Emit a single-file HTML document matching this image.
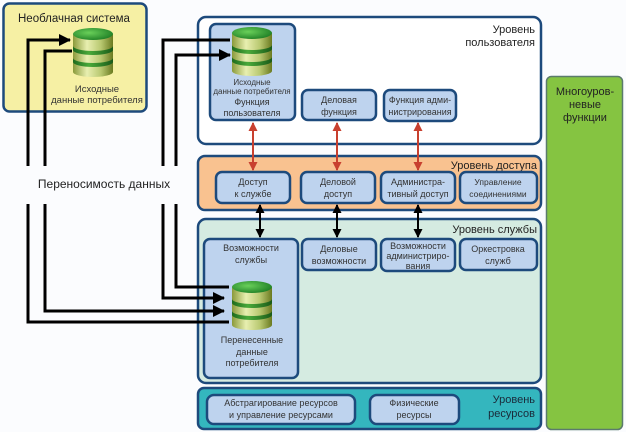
<!DOCTYPE html>
<html><head><meta charset="utf-8"><style>
body{margin:0;width:626px;height:432px;background:#fbfcfe;overflow:hidden;font-family:"Liberation Sans",sans-serif;}
svg{position:absolute;left:0;top:0}
</style></head><body>
<svg width="626" height="432" viewBox="0 0 626 432" xmlns="http://www.w3.org/2000/svg" font-family="Liberation Sans, sans-serif">
<defs>
<linearGradient id="cyl" x1="0" x2="1" y1="0" y2="0">
<stop offset="0" stop-color="#8a9a3a"/><stop offset="0.35" stop-color="#e8efb0"/><stop offset="0.7" stop-color="#b8c870"/><stop offset="1" stop-color="#6a7a20"/>
</linearGradient>
<linearGradient id="band" x1="0" x2="1"><stop offset="0" stop-color="#1e6a1e"/><stop offset="0.4" stop-color="#4aaa3a"/><stop offset="1" stop-color="#1a5a18"/></linearGradient>
<radialGradient id="top" cx="0.4" cy="0.4" r="0.7"><stop offset="0" stop-color="#6ad05a"/><stop offset="1" stop-color="#1a7a22"/></radialGradient>
<marker id="abig" markerWidth="12" markerHeight="12" refX="11" refY="6" orient="auto" markerUnits="userSpaceOnUse"><path d="M0,0L12,6L0,12z" fill="#000"/></marker>
<marker id="ar" markerWidth="9" markerHeight="9" refX="8" refY="4.5" orient="auto-start-reverse" markerUnits="userSpaceOnUse"><path d="M0,0L9,4.5L0,9z" fill="#c8402f"/></marker>
<marker id="ak" markerWidth="9" markerHeight="9" refX="8" refY="4.5" orient="auto-start-reverse" markerUnits="userSpaceOnUse"><path d="M0,0L9,4.5L0,9z" fill="#000"/></marker>
<g id="db">
<rect x="0" y="6" width="40" height="38" fill="url(#cyl)"/>
<ellipse cx="20" cy="44" rx="20" ry="5" fill="url(#cyl)"/>
<path d="M0,18 a20,5 0 0 0 40,0 v4 a20,5 0 0 1 -40,0z" fill="url(#band)"/>
<path d="M0,30 a20,5 0 0 0 40,0 v4 a20,5 0 0 1 -40,0z" fill="url(#band)"/>
<ellipse cx="20" cy="6" rx="20" ry="6" fill="url(#top)"/>
</g>
</defs>

<rect x="3.5" y="3.5" width="143" height="108" rx="6" fill="#f6f0a4" stroke="#1d4a7c" stroke-width="2.5"/>
<text x="18" y="22" font-size="11.5" fill="#222">Необлачная система</text>
<use href="#db" x="73" y="28"/>
<text x="97" y="92" font-size="9.5" text-anchor="middle" fill="#333">Исходные</text>
<text x="97" y="103" font-size="9.5" text-anchor="middle" fill="#333">данные потребителя</text>

<rect x="546.5" y="76.5" width="76" height="353" rx="5" fill="#85c441" stroke="#5b7a6c" stroke-width="1.5"/>
<text x="585" y="95" font-size="11" text-anchor="middle" fill="#222">Многоуров-</text>
<text x="585" y="108" font-size="11" text-anchor="middle" fill="#222">невые</text>
<text x="585" y="121" font-size="11" text-anchor="middle" fill="#222">функции</text>

<rect x="198" y="17" width="343" height="127" rx="8" fill="#fff" stroke="#1d4a7c" stroke-width="2.5"/>
<text x="535" y="33" font-size="11" text-anchor="end" fill="#222">Уровень</text>
<text x="535" y="46" font-size="11" text-anchor="end" fill="#222">пользователя</text>
<rect x="210" y="24" width="85" height="96" rx="6" fill="#bed3ee" stroke="#1d4a7c" stroke-width="2.5"/>
<use href="#db" x="232" y="27"/>
<text x="252" y="85" font-size="8" text-anchor="middle" fill="#333">Исходные</text>
<text x="252" y="94" font-size="8" text-anchor="middle" fill="#333">данные потребителя</text>
<text x="252" y="105" font-size="9" text-anchor="middle" fill="#333">Функция</text>
<text x="252" y="116" font-size="9" text-anchor="middle" fill="#333">пользователя</text>
<rect x="302" y="90" width="74" height="30" rx="6" fill="#bed3ee" stroke="#1d4a7c" stroke-width="2.5"/>
<text x="339" y="103" font-size="9" text-anchor="middle" fill="#333">Деловая</text>
<text x="339" y="115" font-size="9" text-anchor="middle" fill="#333">функция</text>
<rect x="384" y="90" width="72" height="31" rx="6" fill="#bed3ee" stroke="#1d4a7c" stroke-width="2.5"/>
<text x="420" y="103" font-size="9" text-anchor="middle" fill="#333">Функция адми-</text>
<text x="420" y="115" font-size="9" text-anchor="middle" fill="#333">нистрирования</text>

<rect x="198" y="156" width="343" height="54" rx="7" fill="#f9c290" stroke="#1d4a7c" stroke-width="2.5"/>
<text x="537" y="169" font-size="11" text-anchor="end" fill="#222">Уровень доступа</text>
<g font-size="9" text-anchor="middle" fill="#333">
<rect x="216" y="172" width="74" height="31" rx="6" fill="#bed3ee" stroke="#1d4a7c" stroke-width="2.5"/>
<text x="253" y="185">Доступ</text><text x="253" y="197">к службе</text>
<rect x="301" y="172" width="74" height="31" rx="6" fill="#bed3ee" stroke="#1d4a7c" stroke-width="2.5"/>
<text x="338" y="185">Деловой</text><text x="338" y="197">доступ</text>
<rect x="381" y="172" width="74" height="31" rx="6" fill="#bed3ee" stroke="#1d4a7c" stroke-width="2.5"/>
<text x="418" y="185">Администра-</text><text x="418" y="197">тивный доступ</text>
<rect x="460" y="172" width="77" height="31" rx="6" fill="#bed3ee" stroke="#1d4a7c" stroke-width="2.5"/>
<text x="498" y="185" font-size="8.5">Управление</text><text x="498" y="197" font-size="8.5">соединениями</text>
</g>

<rect x="198" y="219" width="343" height="164" rx="8" fill="#d5ebe1" stroke="#1d4a7c" stroke-width="2.5"/>
<text x="537" y="233" font-size="11" text-anchor="end" fill="#222">Уровень службы</text>
<g font-size="9" text-anchor="middle" fill="#333">
<rect x="204" y="239" width="94" height="139" rx="6" fill="#bed3ee" stroke="#1d4a7c" stroke-width="2.5"/>
<text x="251" y="251">Возможности</text><text x="251" y="263">службы</text>
<text x="252" y="343">Перенесенные</text><text x="252" y="355">данные</text><text x="252" y="366">потребителя</text>
<rect x="302" y="239" width="74" height="31" rx="6" fill="#bed3ee" stroke="#1d4a7c" stroke-width="2.5"/>
<text x="339" y="252">Деловые</text><text x="339" y="264">возможности</text>
<rect x="381" y="239" width="74" height="32" rx="6" fill="#bed3ee" stroke="#1d4a7c" stroke-width="2.5"/>
<text x="418" y="249">Возможности</text><text x="418" y="259">администриро-</text><text x="418" y="269">вания</text>
<rect x="460" y="239" width="77" height="31" rx="6" fill="#bed3ee" stroke="#1d4a7c" stroke-width="2.5"/>
<text x="498" y="252">Оркестровка</text><text x="498" y="264">служб</text>
</g>
<use href="#db" x="232" y="281"/>

<rect x="198" y="388" width="343" height="41" rx="6" fill="#34b6be" stroke="#1d4a7c" stroke-width="2.5"/>
<text x="535" y="403" font-size="11" text-anchor="end" fill="#1a2a3a">Уровень</text>
<text x="535" y="417" font-size="11" text-anchor="end" fill="#1a2a3a">ресурсов</text>
<g font-size="9" text-anchor="middle" fill="#333">
<rect x="207" y="395" width="148" height="29" rx="7" fill="#bed3ee" stroke="#1d4a7c" stroke-width="2.5"/>
<text x="281" y="406">Абстрагирование ресурсов</text><text x="281" y="418">и управление ресурсами</text>
<rect x="370" y="395" width="89" height="29" rx="7" fill="#bed3ee" stroke="#1d4a7c" stroke-width="2.5"/>
<text x="414" y="406">Физические</text><text x="414" y="418">ресурсы</text>
</g>

<g stroke="#c8402f" stroke-width="2" marker-start="url(#ar)" marker-end="url(#ar)">
<line x1="253" y1="123" x2="253" y2="170"/>
<line x1="337" y1="123" x2="337" y2="170"/>
<line x1="418" y1="123" x2="418" y2="170"/>
</g>
<g stroke="#000" stroke-width="2" marker-start="url(#ak)" marker-end="url(#ak)">
<line x1="260" y1="205" x2="260" y2="237"/>
<line x1="337" y1="205" x2="337" y2="237"/>
<line x1="418" y1="205" x2="418" y2="237"/>
</g>

<g stroke="#000" stroke-width="3" fill="none">
<path d="M28,166 V40 H70" marker-end="url(#abig)"/>
<path d="M45,166 V51 H72"/>
<path d="M163,166 V40 H230"/>
<path d="M176,166 V55 H230" marker-end="url(#abig)"/>
<path d="M28,204 V322 H229"/>
<path d="M45,204 V311 H224" marker-end="url(#abig)"/>
<path d="M163,204 V298 H224" marker-end="url(#abig)"/>
<path d="M176,204 V287 H229"/>
</g>
<text x="104" y="188" font-size="12" text-anchor="middle" fill="#222">Переносимость данных</text>
</svg>
</body></html>
